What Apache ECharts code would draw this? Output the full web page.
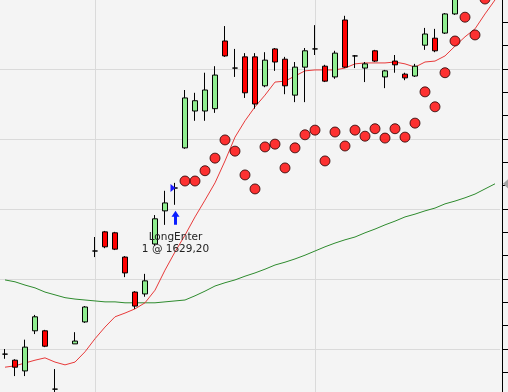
<!DOCTYPE html>
<html><head><meta charset="utf-8">
<script src="https://cdn.jsdelivr.net/npm/echarts/dist/echarts.min.js"></script>
<style>html,body{margin:0;padding:0;background:#f4f4f4;}#c{width:508px;height:392px;}</style>
</head><body><div id="c"></div>
<script>
const categories = ['1','2','3','4','5','6','7','8','9','10','11','12','13','14','15','16','17','18','19','20','21','22','23','24','25','26','27','28','29','30','31','32','33','34','35','36','37','38','39','40','41','42','43','44','45','46','47','48','49','50'];
// [open, close, low, high]
const candles = [
 [1588.9,1588.9,1587.9,1590.0],
 [1587.6,1586.1,1584.2,1587.8],
 [1585.3,1590.4,1584.2,1592.0],
 [1593.9,1596.9,1593.2,1597.3],
 [1593.9,1590.6,1590.4,1594.1],
 [1581.4,1581.4,1579.9,1585.7],
 [1580.1,1578.7,1578.0,1580.6],
 [1591.1,1591.7,1591.1,1593.6],
 [1595.8,1599.0,1595.6,1599.2],
 [1611.0,1611.0,1609.7,1614.0],
 [1615.1,1611.9,1611.6,1615.3],
 [1614.9,1611.4,1611.2,1615.1],
 [1609.7,1606.3,1605.4,1609.9],
 [1602.2,1599.2,1598.6,1602.4],
 [1601.8,1604.6,1601.2,1606.1],
 [1612.5,1617.9,1612.1,1618.7],
 [1619.6,1621.3,1616.6,1623.9],
 [1624.5,1624.5,1620.9,1625.6],
 [1633.1,1643.8,1632.9,1645.5],
 [1641.0,1643.2,1638.9,1644.9],
 [1641.0,1645.5,1638.9,1649.2],
 [1641.5,1648.7,1640.6,1650.6],
 [1656.0,1652.8,1652.6,1659.2],
 [1650.2,1650.2,1648.3,1654.3],
 [1652.6,1644.9,1643.8,1653.4],
 [1652.6,1642.5,1641.5,1653.4],
 [1646.4,1651.9,1646.1,1653.6],
 [1654.3,1651.5,1649.6,1654.5],
 [1652.1,1646.4,1644.6,1652.6],
 [1644.4,1650.4,1642.9,1651.5],
 [1650.4,1653.9,1642.9,1654.5],
 [1654.3,1654.3,1653.0,1659.4],
 [1650.6,1647.4,1647.2,1650.9],
 [1648.3,1653.4,1647.9,1653.9],
 [1660.5,1650.4,1650.2,1661.4],
 [1652.8,1652.8,1650.2,1653.0],
 [1650.2,1651.1,1647.2,1651.5],
 [1653.9,1651.7,1651.5,1654.1],
 [1648.3,1649.6,1645.9,1649.8],
 [1651.7,1650.9,1649.2,1653.0],
 [1648.9,1648.1,1647.6,1649.2],
 [1648.5,1650.6,1648.3,1651.1],
 [1655.1,1657.5,1654.1,1658.8],
 [1656.6,1653.9,1653.6,1658.6],
 [1657.7,1661.8,1657.5,1662.0],
 [1661.8,1666.5,1661.6,1667.4],
 [1667.0,1670.0,1666.0,1671.0],
 [1671.0,1668.5,1667.5,1672.0],
 [1668.5,1673.0,1667.8,1674.0],
 [1672.5,1675.5,1671.5,1676.5]
];
const sar = ['-','-','-','-','-','-','-','-','-','-','-','-','-','-','-','-','-','-',
 1626.0,1626.0,1628.2,1630.9,1634.8,1632.4,1627.3,1624.3,1633.3,1633.9,
 1628.8,1633.1,1635.9,1636.9,1630.3,1636.5,1633.5,1636.9,1635.6,1637.2,
 1635.2,1637.2,1635.4,1638.4,1645.1,1641.9,1649.2,1656.0,1661.1,1657.3,
 1665.0,1669.0];
const maFast = [1586.1,1586.4,1587.0,1587.6,1588.1,1587.2,1586.6,1587.2,1589.4,1592.2,
 1594.7,1596.9,1597.7,1598.6,1599.9,1602.6,1606.9,1610.8,1614.4,1618.3,
 1621.9,1625.6,1630.3,1635.4,1638.9,1641.9,1644.4,1647.2,1647.4,1648.5,
 1649.6,1649.8,1649.8,1649.8,1650.2,1651.1,1651.3,1651.3,1651.3,1651.5,
 1651.1,1650.4,1651.5,1651.7,1652.8,1654.9,1656.9,1658.6,1661.8,1664.8];
const maSlow = [1604.8,1604.4,1603.7,1603.1,1602.2,1601.6,1601.0,1600.7,1600.5,1600.3,
 1600.1,1600.1,1599.9,1599.9,1599.9,1599.9,1600.1,1600.3,1600.5,1601.4,
 1602.4,1603.5,1604.2,1604.8,1605.6,1606.3,1607.1,1608.0,1608.6,1609.3,
 1610.1,1611.0,1611.9,1612.7,1613.4,1614.0,1614.9,1615.7,1616.6,1617.4,
 1618.3,1618.9,1619.6,1620.2,1621.1,1621.7,1622.4,1623.2,1624.3,1625.4];
const yMin = 1575, yMax = 1680, yInterval = 15;
const sessionBreaks = [9, 31];
const entryIndex = 17;
const entryText = 'LongEnter\n1 @ 1629,20';

const chart = echarts.init(document.getElementById('c'), null, {renderer:'canvas'});
const low = candles[entryIndex][2];
const close = candles[entryIndex][1];
chart.setOption({
  animation: false,
  backgroundColor: '#f4f4f4',
  grid: {left: 0, right: 8, top: -71, bottom: -27, containLabel: false, outerBoundsMode: 'none'},
  xAxis: {
    type: 'category', data: categories, boundaryGap: true,
    axisLine: {show: false}, axisTick: {show: false},
    axisLabel: {show: true, color: '#000'}, splitLine: {show: false}
  },
  yAxis: {
    type: 'value', position: 'right', offset: 2,
    min: yMin, max: yMax, interval: yInterval,
    axisLine: {show: true, lineStyle: {color: '#000', width: 1}},
    axisTick: {show: true, length: 6, lineStyle: {color: '#000'}},
    minorTick: {show: true, splitNumber: 3, length: 6, lineStyle: {color: '#000'}},
    axisLabel: {show: true, color: '#000', fontSize: 11},
    splitLine: {show: true, lineStyle: {color: '#dadada', width: 1}},
    minorSplitLine: {show: false}
  },
  series: [
    {
      type: 'line', data: maSlow, symbol: 'none', z: 1,
      lineStyle: {color: '#2e8b2e', width: 1},
      markLine: {
        silent: true, symbol: 'none', z: 0, animation: false,
        label: {show: false},
        lineStyle: {color: '#dadada', type: 'solid', width: 1},
        data: sessionBreaks.map(i => ({xAxis: i}))
      },
      markPoint: {
        silent: true,
        data: [{coord: [maSlow.length - 1, maSlow[maSlow.length - 1]], symbol: 'triangle', symbolRotate: 90,
          symbolSize: [11, 6], symbolOffset: [11, 0], itemStyle: {color: '#a4a4a4'}, label: {show: false}}]
      }
    },
    {
      type: 'line', data: maFast, symbol: 'none', z: 1,
      lineStyle: {color: '#e83a3a', width: 1}
    },
    {
      type: 'candlestick', data: candles, barWidth: 6, z: 3,
      itemStyle: {color: '#90ee90', color0: '#ff0000', borderColor: '#000', borderColor0: '#000', borderWidth: 1},
      markPoint: {
        silent: true,
        data: [
          {coord: [entryIndex, close], symbol: 'triangle', symbolRotate: -90, symbolSize: [8, 5],
           symbolOffset: [-2, 0], itemStyle: {color: '#1a1aff'}, label: {show: false}},
          {coord: [entryIndex, low], symbol: 'path://M4,0 L8,6 L5.5,6 L5.5,14 L2.5,14 L2.5,6 L0,6 Z',
           symbolSize: [8, 14], symbolOffset: [0.5, 13], itemStyle: {color: '#0a1eff'},
           label: {show: true, position: 'bottom', distance: 6, formatter: entryText,
             color: '#222', fontFamily: 'DejaVu Sans', fontSize: 10.5, lineHeight: 12}}
        ]
      }
    },
    {
      type: 'scatter', data: sar, symbol: 'circle', symbolSize: 10, z: 4,
      itemStyle: {color: '#ff0000', borderColor: '#200000', borderWidth: 1}
    }
  ]
});
</script></body></html>
